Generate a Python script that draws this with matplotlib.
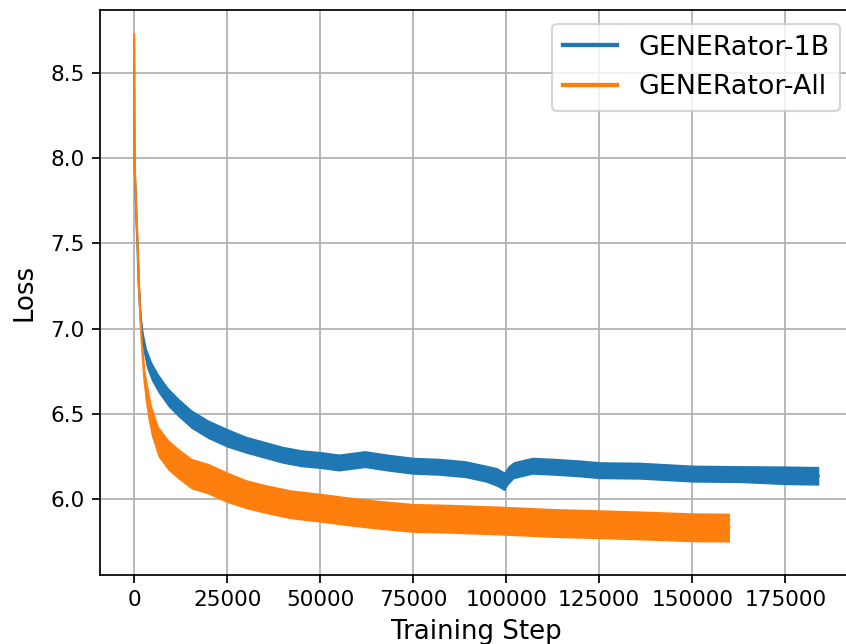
import matplotlib
matplotlib.use("Agg")
import matplotlib.pyplot as plt
import numpy as np

# loss curves: step, centre of the noisy band, half-width of band
blue_steps = [0, 150, 400, 700, 900, 1250, 1800, 2400, 3300, 4700, 6500, 9100,
              11800, 15400, 19900, 25000, 30000, 35000, 40000, 45000, 50000, 55000,
              62000, 68000, 75000, 82000, 89000, 94500, 97500, 99500, 100500, 102000,
              107000, 113000, 120000, 125000, 136000, 150000, 163000, 175000, 184000]
blue_loss = [8.70, 7.95, 7.80, 7.60, 7.50, 7.26, 7.05, 6.93, 6.83, 6.75, 6.68, 6.60,
             6.54, 6.47, 6.41, 6.36, 6.32, 6.29, 6.26, 6.24, 6.23, 6.215,
             6.235, 6.215, 6.196, 6.19, 6.176, 6.15, 6.13, 6.105, 6.14, 6.17,
             6.196, 6.19, 6.18, 6.17, 6.167, 6.15, 6.147, 6.14, 6.137]
blue_spread = [0.0, 0.03, 0.04, 0.04, 0.05, 0.05, 0.05, 0.055, 0.055, 0.055, 0.055, 0.055,
               0.055, 0.055, 0.055, 0.055, 0.05, 0.05, 0.05, 0.05, 0.05, 0.05,
               0.05, 0.05, 0.05, 0.05, 0.05, 0.05, 0.055, 0.055, 0.055, 0.05,
               0.05, 0.05, 0.05, 0.05, 0.05, 0.05, 0.05, 0.055, 0.055]

orange_steps = [0, 150, 630, 1075, 1520, 1970, 2420, 2870, 3760, 4660, 6450, 9140,
                11800, 15400, 19900, 25000, 30000, 35500, 42000, 50000, 57000, 65000,
                75000, 85000, 91000, 100000, 113000, 125000, 140000, 150000, 160000]
orange_loss = [8.725, 7.97, 7.69, 7.43, 7.15, 6.95, 6.81, 6.68, 6.56, 6.46, 6.34, 6.26,
               6.21, 6.15, 6.12, 6.07, 6.03, 6.00, 5.97, 5.95, 5.93, 5.91,
               5.89, 5.885, 5.88, 5.873, 5.86, 5.853, 5.843, 5.835, 5.833]
orange_spread = [0.0, 0.03, 0.05, 0.06, 0.07, 0.08, 0.08, 0.08, 0.09, 0.09, 0.09, 0.09,
                 0.09, 0.09, 0.09, 0.09, 0.085, 0.085, 0.085, 0.085, 0.085, 0.085,
                 0.085, 0.085, 0.085, 0.085, 0.085, 0.085, 0.085, 0.085, 0.085]

series = [
    ("GENERator-1B", blue_steps, blue_loss, blue_spread, "#1f77b4"),
    ("GENERator-All", orange_steps, orange_loss, orange_spread, "#ff7f0e"),
]

DPI = 156
fig = plt.figure(figsize=(846 / DPI, 644 / DPI), dpi=DPI)
# axes run slightly past the right edge, as in the reference crop
ax = fig.add_axes([100 / 846, 69 / 644, 753 / 846, 565 / 644])

for label, steps, loss, spread, color in series:
    steps = np.array(steps)
    loss = np.array(loss)
    spread = np.array(spread)
    ax.fill_between(steps, loss - spread, loss + spread, color=color, linewidth=0, zorder=2)
    ax.plot(steps, loss, color=color, linewidth=1.0, label=label, zorder=3)

ax.set_xlim(-9150, 193200)
ax.set_ylim(5.555, 8.87)
ax.set_xticks(np.arange(0, 175001, 25000))
ax.set_yticks([6.0, 6.5, 7.0, 7.5, 8.0, 8.5])
ax.tick_params(labelsize=10)
ax.grid(True)
ax.set_axisbelow(True)
ax.set_xlabel("Training Step", fontsize=12)
ax.set_ylabel("Loss", fontsize=12, labelpad=6)

leg = ax.legend(loc="upper right", bbox_to_anchor=(0.983, 0.975), borderaxespad=0,
                fontsize=12.4)
for ln in leg.get_lines():
    ln.set_linewidth(2)

fig.savefig("out.png", dpi=DPI)
